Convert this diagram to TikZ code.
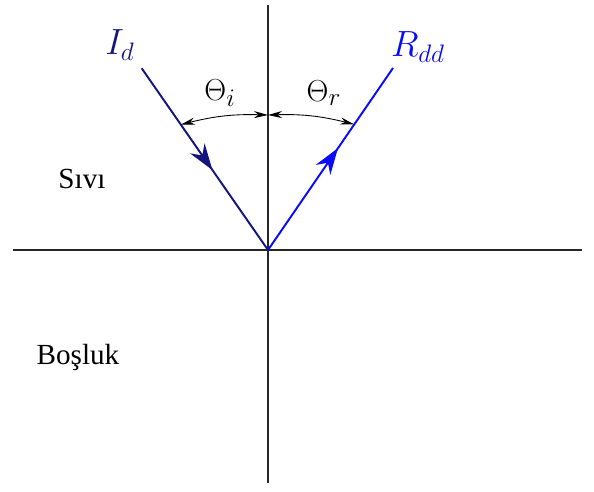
\documentclass[tikz,border=0pt]{standalone}
\usepackage{fontspec}
\newfontfamily\trfont{Liberation Serif}
\usetikzlibrary{arrows.meta, calc, positioning, decorations.markings}
\definecolor{rayblue}{RGB}{10, 10, 250}
\definecolor{raynavy}{RGB}{20, 20, 125}
\tikzstyle{axis} = [line width=1pt, black!85]
\tikzstyle{ray} = [line width=1.1pt]
\tikzstyle{midarrow} = [postaction={decorate}, decoration={markings, mark=at position #1 with {\arrow{Stealth[length=15pt, width=10pt]}}}]
\tikzstyle{anglearc} = [line width=0.5pt, {Stealth[length=8pt, width=4pt]}-{Stealth[length=8pt, width=4pt]}]
\tikzstyle{region} = [font=\trfont\fontsize{16.6}{20}\selectfont]
\tikzstyle{sym} = [font=\fontsize{19}{22}\selectfont]
\tikzstyle{raylabel} = [font=\fontsize{21}{24}\selectfont]

\begin{document}
\begin{tikzpicture}[x=0.02cm, y=-0.02cm]
        \useasboundingbox (0,0) rectangle (594,491);
        \coordinate (O) at (268,250);
        \coordinate (top) at (268,5);
        \coordinate (bottom) at (268,483);
        \coordinate (west) at (13,250);
        \coordinate (east) at (582,250);
        \coordinate (src) at (141.7,68.3);
        \coordinate (dst) at (393,68);
        \coordinate (ai) at ($(src)!0.31!(O)$);
        \coordinate (ar) at ($(O)!0.69!(dst)$);
        \coordinate (am) at (268,115);

        \draw [axis] (top) -- (bottom);
        \draw [axis] (west) -- (east);
        \draw [ray, raynavy, midarrow=0.56] (src) -- (O);
        \draw [ray, rayblue, midarrow=0.56] (O) -- (dst);
        \draw [anglearc] (ai) to[bend left=8] (am);
        \draw [anglearc] (am) to[bend left=8] (ar);

        \node (Id) [raylabel, raynavy] at (120,45) {$I_d$};
        \node (Rdd) [raylabel, rayblue] at (418,47) {$R_{dd}$};
        \node (thi) [sym] at (220,93) {$\Theta_i$};
        \node (thr) [sym] at (324,93) {$\Theta_r$};
        \node (liquid) [region] at (82,179) {Sıvı};
        \node (vacuum) [region] at (78,357) {Boşluk};
    \end{tikzpicture}
\end{document}
